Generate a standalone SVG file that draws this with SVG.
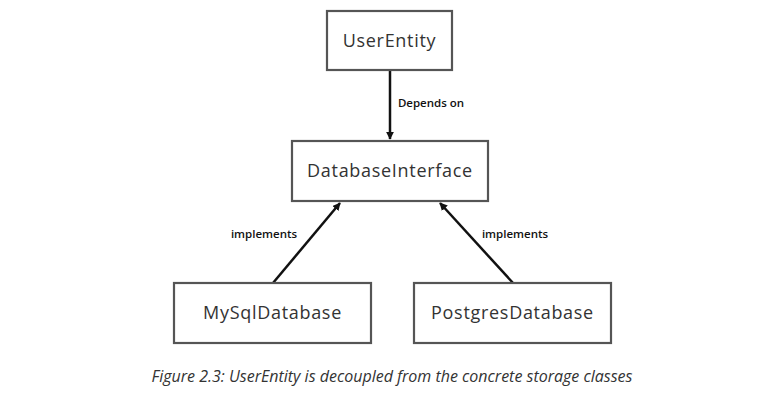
<svg xmlns="http://www.w3.org/2000/svg" width="777" height="401" viewBox="0 0 777 401">
<defs>
<marker id="ah" viewBox="0 0 10 10" refX="9" refY="5" markerWidth="8" markerHeight="8" markerUnits="userSpaceOnUse" orient="auto">
<path d="M0,0 L10,5 L0,10 Z" fill="#111"/>
</marker>
<style>
.box{fill:#fff;stroke:#555;stroke-width:2.2}
.lbl{font-family:"Open Sans","Noto Sans",sans-serif;font-size:18px;letter-spacing:0.7px;fill:#333;text-anchor:middle}
.edge{stroke:#111;stroke-width:2.5;fill:none;marker-end:url(#ah)}
.el{font-family:"Open Sans","Noto Sans",sans-serif;font-size:11.5px;font-weight:600;fill:#111;text-anchor:middle}
.cap{font-family:"Open Sans","Noto Sans",sans-serif;font-style:italic;font-size:16px;fill:#333;text-anchor:middle}
</style>
</defs>
<rect width="777" height="401" fill="#fff"/>
<g id="connectors">
<line class="edge" x1="390" y1="70" x2="390" y2="139"/>
<text class="el" x="431" y="107">Depends on</text>
<line class="edge" x1="273" y1="283" x2="340" y2="203"/>
<text class="el" x="264" y="238">implements</text>
<line class="edge" x1="513" y1="283" x2="440" y2="203"/>
<text class="el" x="515" y="238">implements</text>
</g>
<g id="UserEntity">
<rect class="box" x="327" y="11" width="125" height="59"/>
<text class="lbl" x="389.5" y="47">UserEntity</text>
</g>
<g id="DatabaseInterface">
<rect class="box" x="292" y="141" width="196" height="60"/>
<text class="lbl" x="390" y="177">DatabaseInterface</text>
</g>
<g id="MySqlDatabase">
<rect class="box" x="174" y="283" width="197" height="60"/>
<text class="lbl" x="272.5" y="319">MySqlDatabase</text>
</g>
<g id="PostgresDatabase">
<rect class="box" x="414" y="283" width="197" height="60"/>
<text class="lbl" x="512.5" y="319">PostgresDatabase</text>
</g>
<text class="cap" x="392" y="382">Figure 2.3: UserEntity is decoupled from the concrete storage classes</text>
</svg>
